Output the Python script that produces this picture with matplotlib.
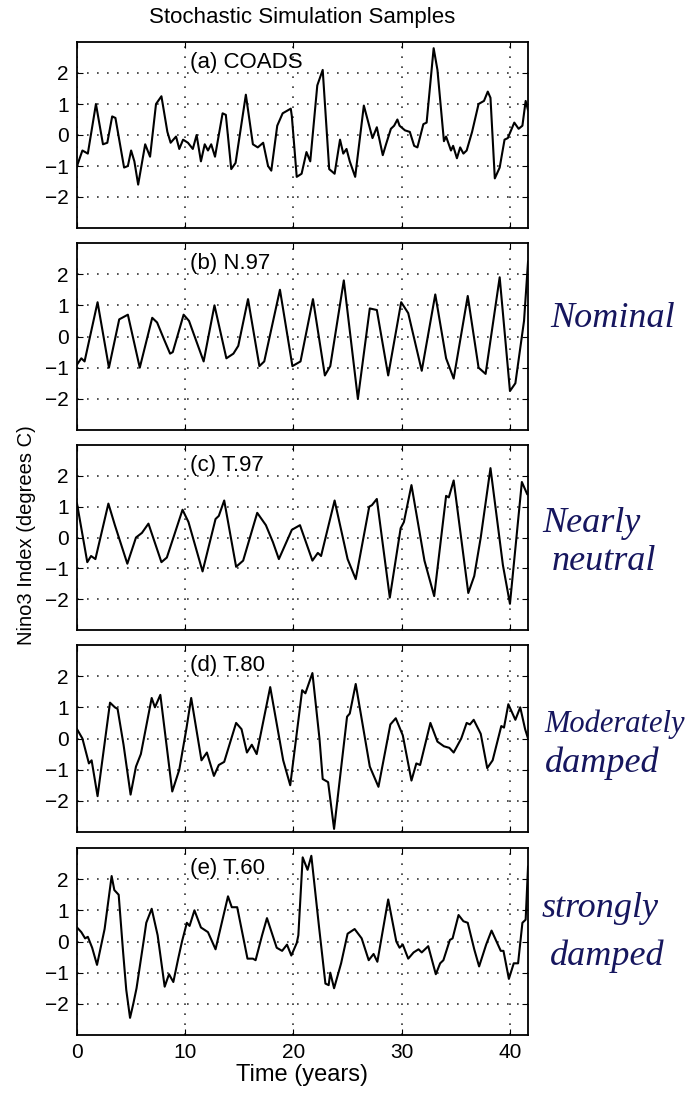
"""Stochastic simulation samples of the Nino3 index, five stacked panels."""
import matplotlib
matplotlib.use("Agg")
import matplotlib.pyplot as plt

plt.rcParams["font.family"] = ["Liberation Sans", "DejaVu Sans"]

t_a = [0, 0.5, 1.0, 1.75, 2.4, 2.8, 3.25, 3.55, 4.35, 4.7, 5.0, 5.3, 5.65, 6.3, 6.75,
       7.3, 7.8, 8.35, 8.65, 9.15, 9.45, 9.8, 10.25, 10.7, 11.05, 11.45, 11.8, 12.1,
       12.4, 12.75, 13.45, 13.75, 14.25, 14.65, 15.6, 16.25, 16.7, 17.2, 17.65, 17.95,
       18.5, 19.0, 19.5, 19.75, 19.85, 20.3, 20.75, 21.2, 21.55, 22.2, 22.7, 23.3, 23.8,
       24.3, 24.6, 24.9, 25.2, 25.7, 26.5, 27.3, 27.7, 28.25, 28.55, 29.0, 29.3, 29.6,
       29.8, 30.3, 30.75, 31.15, 31.45, 32.0, 32.3, 32.95, 33.3, 33.9, 34.1, 34.55,
       34.75, 35.1, 35.4, 35.7, 36.0, 36.5, 37.1, 37.6, 37.95, 38.2, 38.6, 39.05, 39.5,
       39.8, 40.4, 40.8, 41.15, 41.45, 41.67]
v_a = [-1.0, -0.5, -0.6, 1.0, -0.3, -0.25, 0.6, 0.55, -1.05, -1.0, -0.5, -0.85, -1.6,
       -0.3, -0.7, 1.0, 1.25, 0.1, -0.25, -0.05, -0.45, -0.15, -0.25, -0.45, 0.0, -0.85,
       -0.3, -0.5, -0.3, -0.7, 0.7, 0.65, -1.1, -0.9, 1.3, -0.3, -0.4, -0.25, -1.0,
       -1.15, 0.3, 0.7, 0.8, 0.85, 0.6, -1.35, -1.25, -0.55, -0.85, 1.6, 2.1, -1.1,
       -1.25, -0.15, -0.6, -0.45, -0.85, -1.35, 0.95, -0.1, 0.25, -0.65, -0.3, 0.2, 0.3,
       0.5, 0.3, 0.15, 0.1, -0.35, -0.4, 0.35, 0.4, 2.8, 2.1, -0.2, -0.05, -0.5, -0.35,
       -0.75, -0.4, -0.6, -0.5, 0.1, 1.0, 1.1, 1.4, 1.2, -1.4, -1.05, -0.15, -0.1, 0.4,
       0.2, 0.3, 1.1, 0.8]

t_b = [0, 0.4, 0.7, 1.9, 2.95, 3.9, 4.7, 5.8, 6.95, 7.4, 8.05, 8.6, 8.85, 9.85, 10.35,
       11.7, 12.7, 13.8, 14.45, 14.9, 15.8, 16.85, 17.3, 18.75, 19.9, 20.65, 21.8, 22.9,
       23.4, 24.65, 25.95, 27.05, 27.7, 28.75, 29.95, 30.6, 31.85, 33.1, 34.1, 34.8,
       36.1, 37.1, 37.75, 39.05, 40.0, 40.5, 41.3, 41.67]
v_b = [-0.9, -0.7, -0.8, 1.1, -1.0, 0.55, 0.7, -1.0, 0.6, 0.45, -0.1, -0.55, -0.5, 0.7,
       0.5, -0.8, 1.0, -0.7, -0.55, -0.3, 1.2, -0.95, -0.8, 1.5, -0.95, -0.8, 1.2, -1.25,
       -0.95, 1.8, -2.0, 0.9, 0.85, -1.25, 1.1, 0.75, -1.1, 1.35, -0.7, -1.35, 1.3, -1.0,
       -1.2, 1.9, -1.75, -1.5, 0.5, 2.4]

t_c = [0, 0.95, 1.3, 1.7, 2.9, 3.5, 4.65, 5.45, 6.0, 6.6, 7.8, 8.3, 9.75, 10.3, 11.6,
       12.8, 13.1, 13.6, 14.7, 15.35, 16.65, 17.45, 18.1, 18.65, 19.85, 20.6, 21.75,
       22.25, 22.55, 23.8, 25.0, 25.75, 27.0, 27.25, 27.7, 28.9, 29.9, 30.2, 30.9, 32.1,
       33.0, 34.1, 34.35, 34.8, 36.15, 36.7, 37.3, 38.2, 39.35, 40.0, 41.1, 41.6, 41.67]
v_c = [1.1, -0.8, -0.6, -0.7, 1.1, 0.4, -0.85, 0.0, 0.15, 0.45, -0.8, -0.65, 0.9, 0.5,
       -1.1, 0.6, 0.7, 1.2, -0.95, -0.75, 0.8, 0.4, -0.15, -0.7, 0.25, 0.4, -0.75, -0.5,
       -0.6, 1.2, -0.7, -1.35, 1.0, 1.05, 1.25, -1.95, 0.3, 0.5, 1.7, -0.75, -1.9, 1.35,
       1.3, 1.85, -1.8, -1.25, 0.0, 2.25, -0.9, -2.15, 1.8, 1.4, 1.4]

t_d = [0, 0.5, 1.1, 1.35, 1.9, 3.05, 3.5, 3.75, 4.3, 4.95, 5.45, 5.9, 6.9, 7.2, 7.7,
       8.8, 9.45, 10.1, 10.55, 11.5, 12.0, 12.65, 13.1, 13.6, 14.7, 15.2, 15.7, 16.15,
       16.6, 17.85, 19.05, 19.7, 20.8, 21.1, 21.75, 22.4, 22.7, 23.2, 23.75, 24.95,
       25.2, 25.75, 27.05, 27.85, 28.95, 29.45, 30.1, 30.9, 31.35, 31.7, 32.65, 33.3,
       33.9, 34.4, 34.8, 35.5, 36.0, 36.3, 36.65, 37.3, 37.9, 38.4, 39.2, 39.45, 39.85,
       40.5, 40.95, 41.4, 41.67]
v_d = [0.3, 0.0, -0.8, -0.7, -1.85, 1.15, 1.0, 0.95, -0.2, -1.8, -0.9, -0.5, 1.3, 1.0,
       1.4, -1.7, -1.0, 0.3, 1.3, -0.7, -0.45, -1.2, -0.85, -0.75, 0.5, 0.3, -0.45, -0.2,
       -0.5, 1.65, -0.7, -1.5, 1.55, 1.45, 2.1, 0.0, -1.3, -1.4, -2.9, 0.7, 0.8, 1.75,
       -0.9, -1.55, 0.45, 0.65, 0.1, -1.35, -0.8, -0.85, 0.5, -0.1, -0.25, -0.3, -0.45,
       0.0, 0.5, 0.45, 0.6, 0.15, -0.95, -0.7, 0.4, 0.35, 1.1, 0.6, 1.0, 0.3, 0.0]

t_e = [0, 0.4, 0.75, 1.0, 1.4, 1.85, 2.55, 3.2, 3.45, 3.85, 4.25, 4.55, 4.9, 5.2, 5.5,
       6.15, 6.4, 6.9, 7.45, 8.1, 8.5, 8.9, 9.35, 9.7, 10.15, 10.4, 10.85, 11.45, 12.1,
       12.8, 13.95, 14.3, 14.8, 15.75, 16.25, 16.5, 17.1, 17.55, 18.45, 18.95, 19.4,
       19.8, 20.3, 20.45, 20.85, 21.3, 21.65, 22.35, 22.95, 23.25, 23.4, 23.75, 24.4,
       25.0, 25.65, 26.3, 26.95, 27.4, 27.75, 28.75, 29.5, 29.8, 30.1, 30.6, 31.1, 31.55,
       31.85, 32.45, 33.15, 33.55, 33.85, 34.45, 34.7, 35.25, 35.7, 36.1, 36.7, 37.15,
       37.8, 38.3, 39.15, 39.4, 39.9, 40.35, 40.75, 41.15, 41.45, 41.67]
v_e = [0.45, 0.3, 0.1, 0.15, -0.2, -0.75, 0.4, 2.1, 1.65, 1.5, -0.3, -1.55, -2.45, -2.0,
       -1.5, 0.0, 0.6, 1.05, 0.2, -1.45, -1.05, -1.3, -0.55, 0.0, 0.6, 0.5, 1.0, 0.45,
       0.3, -0.25, 1.45, 1.1, 1.1, -0.55, -0.55, -0.6, 0.2, 0.75, -0.2, -0.3, -0.1, -0.45,
       -0.05, 0.2, 2.7, 2.3, 2.75, 0.5, -1.35, -1.4, -1.0, -1.5, -0.7, 0.25, 0.4, 0.1,
       -0.6, -0.4, -0.65, 1.35, 0.0, -0.2, -0.1, -0.55, -0.35, -0.25, -0.35, -0.15, -1.05,
       -0.7, -0.6, 0.05, 0.1, 0.85, 0.65, 0.6, -0.25, -0.8, -0.1, 0.35, -0.3, -0.3, -1.2,
       -0.7, -0.7, 0.6, 0.7, 2.4]

panel_labels = ["(a) COADS", "(b) N.97", "(c) T.97", "(d) T.80", "(e) T.60"]
series = [(t_a, v_a), (t_b, v_b), (t_c, v_c), (t_d, v_d), (t_e, v_e)]

# handwritten notes written beside panels b..e, one entry per line
note_lines = ["Nominal", "Nearly", "neutral", "Moderately", "damped", "strongly", "damped"]

x_ticks = [0, 10, 20, 30, 40]
y_ticks = [-2, -1, 0, 1, 2]
x_max = 500 / 12  # 500 months

W, H = 696, 1093
fig = plt.figure(figsize=(W / 100, H / 100), dpi=100)

# pixel boxes (top, bottom) of each panel
panel_px = [(42, 228), (243, 430), (445, 630), (645, 832), (848, 1035)]
left_px, right_px = 77, 528

axes_list = []
for i, ((top, bottom), (t, v)) in enumerate(zip(panel_px, series)):
    ax = fig.add_axes([left_px / W, 1 - bottom / H,
                       (right_px - left_px) / W, (bottom - top) / H])
    ax.plot(t, v, color="black", linewidth=1.5)
    ax.set_xlim(0, x_max)
    ax.set_ylim(-3, 3)
    ax.set_xticks(x_ticks)
    ax.set_yticks(y_ticks)
    ax.set_yticklabels([str(y).replace("-", "\u2212") for y in y_ticks])
    ax.grid(True, color="#333333", linestyle=(0, (1, 5)), linewidth=1.2)
    ax.tick_params(direction="in", top=True, right=True, length=4,
                   labelsize=15, width=0.8)
    ax.tick_params(axis="y", pad=6)
    ax.tick_params(axis="x", pad=6)
    for s in ax.spines.values():
        s.set_linewidth(1.3)
    if i < 4:
        ax.tick_params(labelbottom=False)
    ax.text(10.45, 2.35, panel_labels[i], fontsize=16, ha="left", va="center")
    axes_list.append(ax)

axes_list[-1].set_xlabel("Time (years)", fontsize=17, labelpad=1)

fig.text(302 / W, 1 - 17 / H, "Stochastic Simulation Samples",
         ha="center", va="center", fontsize=16)
fig.text(26 / W, 1 - 535 / H, "Nino3 Index (degrees C)", rotation=90,
         ha="center", va="center", fontsize=14.5)

# note positions in pixels (left x, baseline y) and sizes
note_px = [(550, 327), (542, 532), (552, 570), (544, 732), (545, 772), (542, 917),
           (550, 965)]
note_size = [26, 26, 26, 22, 26, 26, 26]
for line, (px, py), size in zip(note_lines, note_px, note_size):
    fig.text(px / W, 1 - py / H, line, ha="left", va="baseline",
             fontsize=size, color="#16165e", family="Liberation Serif",
             style="italic")

fig.savefig("out.png", dpi=100)
